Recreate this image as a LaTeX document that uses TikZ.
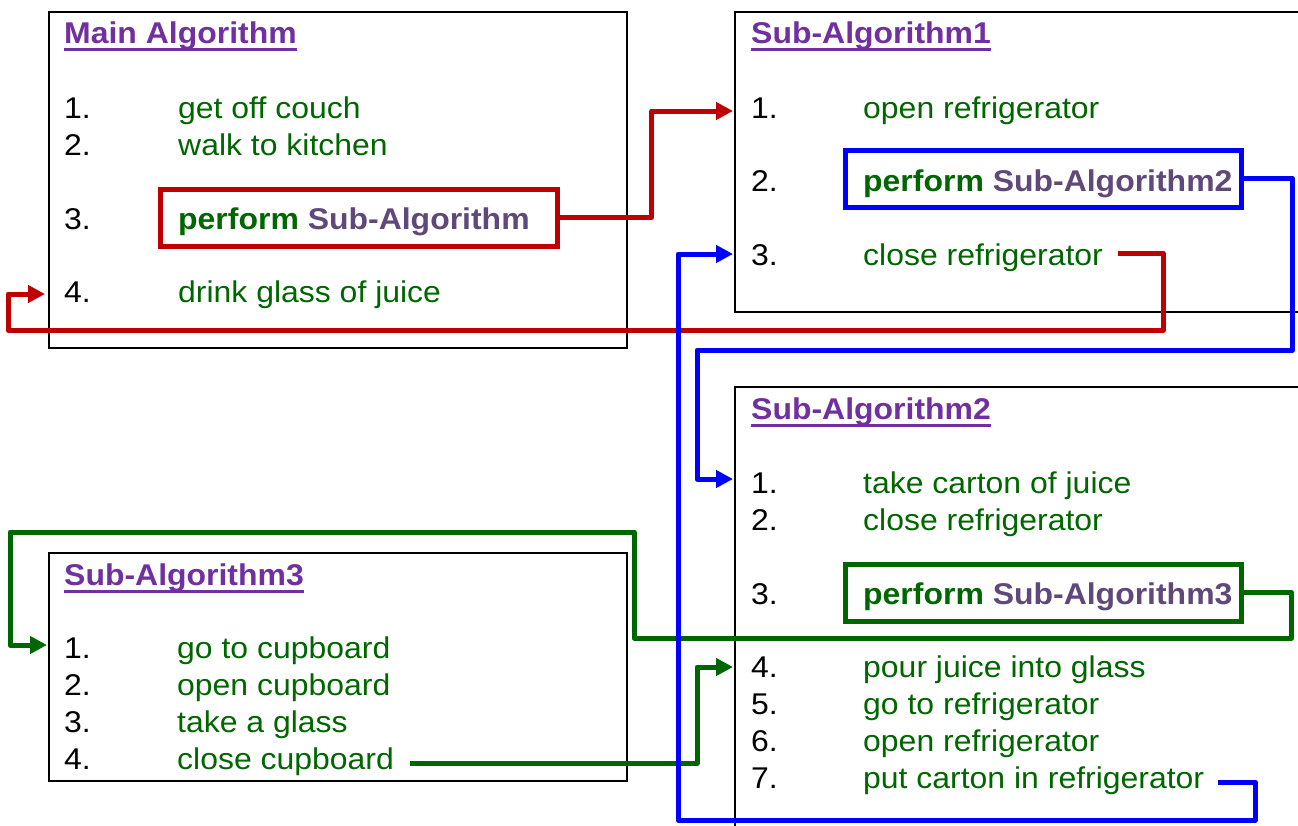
\documentclass[tikz,border=0pt]{standalone}
\usepackage{fontspec}
\setmainfont{Liberation Sans}[FakeStretch=1.065]
\usetikzlibrary{arrows.meta}
\definecolor{ttl}{HTML}{7030A0}
\definecolor{subc}{HTML}{5F497A}
\definecolor{grn}{HTML}{006600}
\definecolor{rd}{HTML}{C00000}
\definecolor{bl}{HTML}{0000FF}

\begin{document}
\begin{tikzpicture}[x=1pt,y=-1pt,
  txt/.style={anchor=base west, inner sep=0pt, font=\fontsize{30}{36}\selectfont},
  num/.style={txt, text=black},
  item/.style={txt, text=grn},
  title/.style={txt, text=ttl, font=\fontsize{30}{36}\selectfont\bfseries},
  panel/.style={draw=black, line width=2.5pt, rectangle, inner sep=0pt},
  callbox/.style={draw=#1, line width=5pt, rectangle, inner sep=0pt},
  link/.style={draw=#1, line width=5pt, line join=round,
    -{Triangle[length=17pt,width=17pt]}},
  uline/.style={draw=ttl, line width=3pt}
]
\useasboundingbox (0,0) rectangle (1298,825);
\clip (0,0) rectangle (1298,825);
\fill[white] (0,0) rectangle (1298,825);

% ---------- panels ----------
\node[panel, minimum width=578pt, minimum height=336pt] (mainbox) at (338,180) {};
\node[panel, minimum width=575pt, minimum height=300pt] (s1box) at (1022.5,162) {};
\node[panel, minimum width=575pt, minimum height=463pt] (s2box) at (1022.5,618.5) {};
\node[panel, minimum width=578pt, minimum height=228pt] (s3box) at (338,667) {};

% ---------- Main Algorithm ----------
\node[title] (mt) at (64,43) {Main Algorithm};
\draw[uline] ([yshift=-6pt]mt.base west) -- ([yshift=-6pt]mt.base east);
\node[num] (mn1) at (64,118) {1.};
\node[item] (mt1) at (178,118) {get off couch};
\node[num] (mn2) at (64,155) {2.};
\node[item] (mt2) at (178,155) {walk to kitchen};
\node[num] (mn3) at (64,229) {3.};
\node[item] (mt3) at (178,229) {\bfseries perform \textcolor{subc}{Sub-Algorithm}};
\node[num] (mn4) at (64,302) {4.};
\node[item] (mt4) at (178,302) {drink glass of juice};
\node[callbox=rd, minimum width=397pt, minimum height=57pt] (pA) at (358.5,217.5) {};

% ---------- Sub-Algorithm1 ----------
\node[title] (s1t) at (751,43) {Sub-Algorithm1};
\draw[uline] ([yshift=-6pt]s1t.base west) -- ([yshift=-6pt]s1t.base east);
\node[num] (s1n1) at (751,118) {1.};
\node[item] (s1t1) at (863,118) {open refrigerator};
\node[num] (s1n2) at (751,191) {2.};
\node[item] (s1t2) at (863,191) {\bfseries perform \textcolor{subc}{Sub-Algorithm2}};
\node[num] (s1n3) at (751,265) {3.};
\node[item] (s1t3) at (863,265) {close refrigerator};
\node[callbox=bl, minimum width=396pt, minimum height=56.5pt] (pB) at (1043,178.75) {};

% ---------- Sub-Algorithm2 ----------
\node[title] (s2t) at (751,419) {Sub-Algorithm2};
\draw[uline] ([yshift=-6pt]s2t.base west) -- ([yshift=-6pt]s2t.base east);
\node[num] (s2n1) at (751,493) {1.};
\node[item] (s2t1) at (863,493) {take carton of juice};
\node[num] (s2n2) at (751,530) {2.};
\node[item] (s2t2) at (863,530) {close refrigerator};
\node[num] (s2n3) at (751,604) {3.};
\node[item] (s2t3) at (863,604) {\bfseries perform \textcolor{subc}{Sub-Algorithm3}};
\node[num] (s2n4) at (751,677) {4.};
\node[item] (s2t4) at (863,677) {pour juice into glass};
\node[num] (s2n5) at (751,714) {5.};
\node[item] (s2t5) at (863,714) {go to refrigerator};
\node[num] (s2n6) at (751,751) {6.};
\node[item] (s2t6) at (863,751) {open refrigerator};
\node[num] (s2n7) at (751,788) {7.};
\node[item] (s2t7) at (863,788) {put carton in refrigerator};
\node[callbox=grn, minimum width=396pt, minimum height=56.5pt] (pC) at (1043,592.75) {};

% ---------- Sub-Algorithm3 ----------
\node[title] (s3t) at (64,585) {Sub-Algorithm3};
\draw[uline] ([yshift=-6pt]s3t.base west) -- ([yshift=-6pt]s3t.base east);
\node[num] (s3n1) at (64,658) {1.};
\node[item] (s3t1) at (177,658) {go to cupboard};
\node[num] (s3n2) at (64,695) {2.};
\node[item] (s3t2) at (177,695) {open cupboard};
\node[num] (s3n3) at (64,732) {3.};
\node[item] (s3t3) at (177,732) {take a glass};
\node[num] (s3n4) at (64,769) {4.};
\node[item] (s3t4) at (177,769) {close cupboard};

% ---------- entry points of the arrows ----------
\coordinate (in-m4)  at (45,294);
\coordinate (in-s1a) at (733,111);
\coordinate (in-s1c) at (733,254);
\coordinate (in-s2a) at (733,479);
\coordinate (in-s2d) at (733,667);
\coordinate (in-s3a) at (47,645);

% ---------- control flow ----------
% call into Sub-Algorithm3 and return
\draw[link=grn] (pC.east) -- ++(48,0) |- (634,638) |- (10,532) |- (in-s3a);
\draw[link=grn] ([xshift=16pt,yshift=6pt]s3t4.base east) -- (697,763) |- (in-s2d);
% call into Sub-Algorithm1 and return
\draw[link=rd] (pA.east) -- ++(92,0) |- (in-s1a);
\draw[link=rd] ([xshift=15pt,yshift=12pt]s1t3.base east) -- (1163,253) |- (8,330) |- (in-m4);
% call into Sub-Algorithm2 and return
\draw[link=bl] (pB.east) -- ++(49,0) |- (697,350) |- (in-s2a);
\draw[link=bl] ([xshift=14pt,yshift=6pt]s2t7.base east) -- (1255,782) |- (678,820) |- (in-s1c);
\end{tikzpicture}
\end{document}
